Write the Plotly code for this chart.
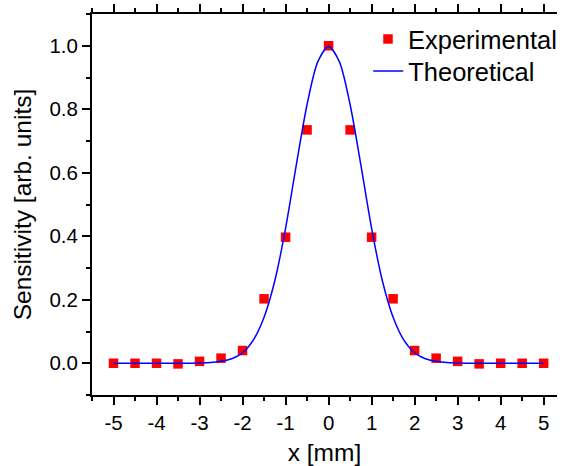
import plotly.graph_objects as go

# Experimental data
exp_x = [-5, -4.5, -4, -3.5, -3, -2.5, -2, -1.5, -1, -0.5, 0, 0.5, 1, 1.5, 2, 2.5, 3, 3.5, 4, 4.5, 5]
exp_y = [0.0, 0.0, 0.0, -0.002, 0.006, 0.016, 0.040, 0.203, 0.397, 0.735, 1.0,
         0.735, 0.397, 0.203, 0.040, 0.016, 0.006, -0.002, 0.0, 0.0, 0.0]

# Theoretical curve
th_x = [-5, -4.75, -4.5, -4.25, -4, -3.75, -3.5, -3.25, -3, -2.75, -2.5, -2.25, -2, -1.75,
        -1.5, -1.25, -1, -0.75, -0.5, -0.25, 0, 0.25, 0.5, 0.75, 1, 1.25, 1.5, 1.75, 2,
        2.25, 2.5, 2.75, 3, 3.25, 3.5, 3.75, 4, 4.25, 4.5, 4.75, 5]
th_y = [0, 0, 0, 0, 0, 0, 0, 0, 0.001, 0.002, 0.006, 0.014, 0.033, 0.073,
        0.145, 0.26, 0.425, 0.625, 0.815, 0.95, 0.998, 0.95, 0.815, 0.625, 0.425, 0.26, 0.145, 0.073, 0.033,
        0.014, 0.006, 0.002, 0.001, 0, 0, 0, 0, 0, 0, 0, 0]

x_ticks = [-5, -4, -3, -2, -1, 0, 1, 2, 3, 4, 5]
y_ticks = [0.0, 0.2, 0.4, 0.6, 0.8, 1.0]

FONT = "Liberation Sans, Arial, sans-serif"

fig = go.Figure()
fig.add_trace(go.Scatter(
    x=exp_x, y=exp_y, mode="markers", name="Experimental", legend="legend",
    marker=dict(symbol="square", size=9.5, color="#ff0000", line=dict(width=0)),
))
fig.add_trace(go.Scatter(
    x=th_x, y=th_y, mode="lines", name="Theoretical", legend="legend2",
    line=dict(color="#0000ff", width=1.5, shape="spline", smoothing=0.8),
))

leg_common = dict(
    xanchor="left", yanchor="top",
    bgcolor="rgba(0,0,0,0)", borderwidth=0,
    font=dict(size=25.5, family=FONT, color="black"),
)

fig.update_layout(
    width=562, height=466,
    margin=dict(l=92, r=0, t=14, b=71),
    paper_bgcolor="white", plot_bgcolor="white",
    font=dict(family=FONT, color="black", size=20),
    showlegend=True,
    legend=dict(x=0.594, y=0.995, **leg_common),
    legend2=dict(x=0.594, y=0.911, **leg_common),
)

fig.update_xaxes(
    range=[-5.5, 5.31],
    tickvals=x_ticks, ticktext=[str(v) for v in x_ticks],
    showgrid=False, zeroline=False,
    showline=True, linecolor="black", linewidth=2,
    mirror="ticks",
    ticks="outside", ticklen=8, tickwidth=1.5, tickcolor="black",
    minor=dict(dtick=0.5, tick0=0, ticks="outside", ticklen=4, tickwidth=1.5, tickcolor="black", showgrid=False),
    tickfont=dict(size=20.5, family=FONT),
    title=dict(text="x [mm]", font=dict(size=24.5, family=FONT), standoff=13),
)
fig.update_yaxes(
    range=[-0.1, 1.1],
    tickvals=y_ticks, ticktext=[f"{v:.1f}" for v in y_ticks],
    showgrid=False, zeroline=False,
    showline=True, linecolor="black", linewidth=2,
    mirror=False,
    ticks="outside", ticklen=8, tickwidth=1.5, tickcolor="black",
    minor=dict(dtick=0.1, tick0=0, ticks="outside", ticklen=4, tickwidth=1.5, tickcolor="black", showgrid=False),
    tickfont=dict(size=20.5, family=FONT),
    title=dict(text="Sensitivity [arb. units]", font=dict(size=24.5, family=FONT), standoff=11),
)

fig.write_html("out.html")
